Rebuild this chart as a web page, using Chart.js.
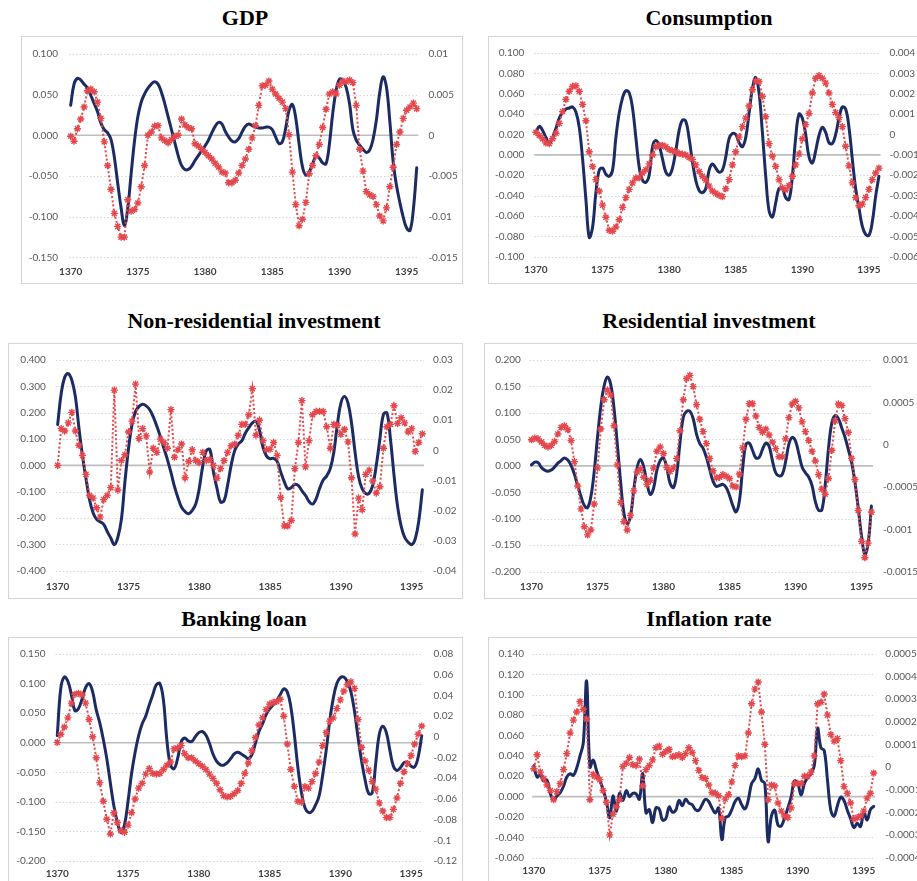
<!DOCTYPE html>
<html>
<head>
<meta charset="utf-8">
<script src="https://cdn.jsdelivr.net/npm/chart.js@4.4.1/dist/chart.umd.min.js"></script>
<style>
  html, body { margin: 0; padding: 0; background: #fff; width: 917px; height: 881px; overflow: hidden; position: relative; }
  .panel { position: absolute; border: 1px solid #d4d4d4; box-sizing: border-box; background: #fff; overflow: hidden; }
  .panel canvas { position: absolute; left: 0; top: 0; }
  .title { position: absolute; font-family: "Liberation Serif", "Times New Roman", serif; font-weight: bold;
           font-size: 22px; line-height: 24px; color: #000; white-space: nowrap; transform: translateX(-50%); }
</style>
</head>
<body>
<script>
// Quarterly observations, 1370Q1 - 1395Q4
const years = [1370, 1371, 1372, 1373, 1374, 1375, 1376, 1377, 1378, 1379, 1380, 1381, 1382,
               1383, 1384, 1385, 1386, 1387, 1388, 1389, 1390, 1391, 1392, 1393, 1394, 1395];
const quarters = ['Q1', 'Q2', 'Q3', 'Q4'];
const xTickYears = ['1370', '1375', '1380', '1385', '1390', '1395'];

// GDP
const gdpLeft = [0.037, 0.063, 0.070, 0.068, 0.063, 0.058, 0.049, 0.039, 0.029, 0.015,
  0.007, 0.003, -0.005, -0.027, -0.059, -0.089, -0.111, -0.089, -0.047, -0.007,
  0.023, 0.041, 0.051, 0.058, 0.063, 0.066, 0.063, 0.053, 0.039, 0.023,
  0.007, -0.009, -0.025, -0.037, -0.042, -0.042, -0.038, -0.031, -0.025, -0.019,
  -0.013, -0.006, 0.003, 0.011, 0.016, 0.014, 0.005, -0.002, -0.007, -0.008,
  -0.004, 0.004, 0.011, 0.014, 0.012, 0.010, 0.009, 0.009, 0.010, 0.010,
  0.007, -0.002, -0.010, -0.008, 0.009, 0.031, 0.038, 0.021, -0.011, -0.039,
  -0.049, -0.045, -0.035, -0.026, -0.028, -0.034, -0.035, -0.011, 0.027, 0.055,
  0.069, 0.068, 0.059, 0.039, 0.007, -0.006, -0.012, -0.017, -0.021, -0.018,
  -0.005, 0.019, 0.053, 0.072, 0.059, 0.017, -0.033, -0.062, -0.083, -0.101,
  -0.114, -0.117, -0.091, -0.040];
const gdpRight = [-0.00012, -0.00072, 0.0008, 0.002, 0.00348, 0.00548, 0.00568, 0.00536, 0.00408, 0.00208,
  -0.0008, -0.00372, -0.00664, -0.0096, -0.0112, -0.01252, -0.01252, -0.00792, -0.00932, -0.00912,
  -0.00832, -0.00632, -0.00372, 0, 0.0004, 0.00112, 0.0012, -0.00032, -0.00064, -0.00092,
  -0.00052, -0.00012, 0, 0.002, 0.00128, 0.00096, 0.0008, -0.00104, -0.00132, -0.00172,
  -0.00212, -0.00252, -0.00292, -0.00344, -0.0039, -0.0045, -0.00464, -0.00584, -0.00584, -0.00552,
  -0.00464, -0.00372, -0.00292, -0.00172, -0.00032, 0.0012, 0.00368, 0.00608, 0.00616, 0.00668,
  0.00568, 0.00508, 0.00456, 0.00408, 0.00328, 0.00008, -0.00452, -0.00852, -0.01112, -0.01032,
  -0.00824, -0.00472, -0.00372, -0.00252, -0.00112, 0.00096, 0.0032, 0.00508, 0.00536, 0.00508,
  0.00616, 0.00668, 0.00656, 0.0068, 0.00648, 0.00368, -0.00172, -0.0044, -0.00692, -0.00732,
  -0.00752, -0.00852, -0.00992, -0.01052, -0.00892, -0.00632, -0.00392, -0.00112, 0.0004, 0.00208,
  0.00308, 0.00348, 0.00396, 0.00328];
const gdpLeftTicks = ['0.100', '0.050', '0.000', '-0.050', '-0.100', '-0.150'];
const gdpRightTicks = ['0.01', '0.005', '0', '-0.005', '-0.01', '-0.015'];

// Consumption
const consLeft = [0.022, 0.028, 0.024, 0.017, 0.011, 0.017, 0.026, 0.036, 0.042, 0.045,
  0.046, 0.047, 0.042, 0.027, -0.004, -0.044, -0.081, -0.071, -0.037, -0.015,
  -0.013, -0.019, -0.021, -0.015, 0.017, 0.041, 0.056, 0.063, 0.061, 0.046,
  0.017, -0.012, -0.025, -0.027, -0.020, 0.008, 0.014, 0.009, -0.004, -0.017,
  -0.020, -0.013, 0.004, 0.024, 0.034, 0.033, 0.016, -0.007, -0.025, -0.035,
  -0.037, -0.033, -0.015, -0.009, -0.013, -0.017, -0.015, -0.002, 0.016, 0.021,
  0.020, 0.012, 0.008, 0.017, 0.041, 0.065, 0.076, 0.061, 0.022, -0.021,
  -0.055, -0.061, -0.047, -0.033, -0.033, -0.042, -0.044, -0.021, 0.017, 0.040,
  0.036, 0.020, -0.002, -0.008, 0.004, 0.019, 0.027, 0.022, 0.012, 0.011,
  0.020, 0.036, 0.047, 0.045, 0.027, -0.004, -0.033, -0.052, -0.070, -0.078,
  -0.079, -0.066, -0.041, -0.021];
const consRight = [0.000112, -0.000048, -0.000209, -0.000417, -0.000449, -0.000209, 0.000064, 0.000546, 0.001124, 0.001717,
  0.002119, 0.002359, 0.002391, 0.002119, 0.001477, 0.000674, -0.000851, -0.001573, -0.002215, -0.002777,
  -0.003467, -0.004061, -0.004703, -0.004751, -0.004542, -0.004189, -0.003579, -0.003098, -0.002696, -0.002375,
  -0.002135, -0.002135, -0.001894, -0.001733, -0.001445, -0.001011, -0.00061, -0.00053, -0.00053, -0.00061,
  -0.000738, -0.000802, -0.000851, -0.000931, -0.000963, -0.001011, -0.001124, -0.00122, -0.001493, -0.001814,
  -0.002054, -0.002247, -0.002536, -0.002777, -0.002889, -0.002985, -0.003049, -0.002664, -0.002215, -0.001493,
  -0.000851, -0.000128, 0.000385, 0.000803, 0.001396, 0.002199, 0.002632, 0.0026, 0.001878, 0.000867,
  -0.000449, -0.001059, -0.001573, -0.002215, -0.002616, -0.002729, -0.002504, -0.002054, -0.001493, -0.000963,
  -0.000209, 0.000482, 0.001027, 0.002038, 0.002761, 0.002889, 0.002761, 0.00252, 0.002038, 0.001477,
  0.001075, 0.000835, 0.000385, -0.000578, -0.001541, -0.002375, -0.003098, -0.003499, -0.003419, -0.003098,
  -0.002696, -0.002215, -0.001894, -0.001653];
const consLeftTicks = ['0.100', '0.080', '0.060', '0.040', '0.020', '0.000', '-0.020', '-0.040', '-0.060', '-0.080', '-0.100'];
const consRightTicks = ['0.004', '0.003', '0.002', '0.001', '0', '-0.001', '-0.002', '-0.003', '-0.004', '-0.005', '-0.006'];

// Non-residential investment
const nonresLeft = [0.155, 0.273, 0.335, 0.348, 0.323, 0.261, 0.143, 0.037, -0.050, -0.130,
  -0.180, -0.205, -0.214, -0.224, -0.251, -0.276, -0.301, -0.273, -0.205, -0.062,
  0.062, 0.155, 0.205, 0.224, 0.232, 0.226, 0.211, 0.184, 0.149, 0.109,
  0.065, 0.022, -0.027, -0.081, -0.124, -0.159, -0.176, -0.184, -0.171, -0.147,
  -0.087, 0.000, 0.056, 0.060, -0.025, -0.087, -0.139, -0.134, -0.075, 0.000,
  0.056, 0.081, 0.093, 0.122, 0.143, 0.161, 0.168, 0.134, 0.068, 0.035,
  0.025, 0.027, 0.015, -0.025, -0.062, -0.089, -0.084, -0.072, -0.077, -0.097,
  -0.114, -0.137, -0.147, -0.127, -0.087, -0.056, -0.040, -0.012, 0.050, 0.155,
  0.236, 0.261, 0.236, 0.161, 0.050, -0.043, -0.089, -0.107, -0.106, -0.075,
  0.000, 0.099, 0.193, 0.199, 0.099, -0.037, -0.155, -0.230, -0.273, -0.292,
  -0.301, -0.279, -0.211, -0.093];
const nonresRight = [-0.0050, 0.0072, 0.0064, 0.0091, 0.0126, 0.0064, 0.0017, -0.0017, -0.0080, -0.0150,
  -0.0159, -0.0191, -0.0222, -0.0164, -0.0150, -0.0124, 0.0200, -0.0132, -0.0034, -0.0015,
  0.0061, 0.0097, 0.0220, 0.0039, 0.0072, 0.0048, -0.0072, 0.0007, -0.0007, 0.0037,
  0.0026, 0.0007, 0.0135, -0.0023, 0.0002, 0.0021, -0.0091, -0.0037, 0.0002, -0.0034,
  -0.0041, -0.0007, -0.0034, -0.0030, -0.0050, -0.0093, -0.0061, -0.0034, -0.0007, 0.0015,
  0.0021, 0.0050, 0.0086, 0.0086, 0.0118, 0.0205, 0.0050, 0.0100, 0.0032, 0.0002,
  0.0004, 0.0026, -0.0017, -0.0157, -0.0251, -0.0251, -0.0233, -0.0061, 0.0026, 0.0165,
  -0.0055, 0.0032, 0.0118, 0.0129, 0.0129, 0.0129, 0.0078, 0.0007, 0.0086, 0.0083,
  0.0053, 0.0070, 0.0028, -0.0091, -0.0278, -0.0159, -0.0197, -0.0080, -0.0066, -0.0102,
  -0.0142, -0.0121, 0.0007, 0.0078, 0.0086, 0.0148, 0.0089, 0.0108, 0.0091, 0.0061,
  0.0072, -0.0004, 0.0026, 0.0055];
const nonresLeftTicks = ['0.400', '0.300', '0.200', '0.100', '0.000', '-0.100', '-0.200', '-0.300', '-0.400'];
const nonresRightTicks = ['0.03', '0.02', '0.01', '0', '-0.01', '-0.02', '-0.03', '-0.04'];

// Residential investment
const resLeft = [0.002, 0.007, 0.006, -0.003, -0.008, -0.010, -0.008, -0.002, 0.005, 0.010,
  0.015, 0.011, 0.001, -0.016, -0.037, -0.058, -0.075, -0.079, -0.058, -0.011,
  0.054, 0.112, 0.151, 0.168, 0.154, 0.109, 0.041, -0.030, -0.089, -0.109,
  -0.095, -0.045, -0.004, 0.012, -0.002, -0.033, -0.054, -0.042, -0.008, 0.010,
  0.015, -0.004, -0.033, -0.041, -0.015, 0.044, 0.092, 0.103, 0.103, 0.089,
  0.060, 0.042, 0.033, 0.016, -0.007, -0.029, -0.039, -0.037, -0.035, -0.041,
  -0.056, -0.075, -0.087, -0.066, -0.004, 0.041, 0.043, 0.029, 0.015, 0.016,
  0.031, 0.043, 0.037, 0.010, -0.013, -0.019, -0.016, 0.008, 0.041, 0.054,
  0.047, 0.023, -0.002, -0.013, -0.021, -0.037, -0.067, -0.084, -0.083, -0.036,
  0.033, 0.081, 0.095, 0.089, 0.072, 0.054, 0.031, 0.007, -0.030, -0.079,
  -0.132, -0.167, -0.147, -0.076];
const resRight = [0.000058, 0.000077, 0.000069, 0.000031, -0.000008, -0.000027, -0.000008, 0.000038, 0.000127, 0.000204,
  0.000223, 0.000177, 0.00005, -0.0002, -0.000488, -0.000758, -0.000969, -0.001065, -0.001008, -0.0007,
  -0.000277, 0.000185, 0.000531, 0.000646, 0.000588, 0.000223, -0.000238, -0.000681, -0.000911, -0.001008,
  -0.000835, -0.000546, -0.000323, -0.000285, -0.000385, -0.000469, -0.000423, -0.000277, -0.000077, -0.000027,
  -0.000104, -0.000269, -0.000315, -0.000277, -0.000162, 0.000165, 0.000531, 0.000781, 0.000819, 0.000685,
  0.000473, 0.0003, 0.000154, 0.000012, -0.000162, -0.000308, -0.000392, -0.000385, -0.000354, -0.000373,
  -0.0004, -0.000488, -0.0005, -0.000346, -0.000038, 0.0003, 0.000485, 0.000485, 0.000338, 0.000204,
  0.000146, 0.000185, 0.000115, 0.000031, -0.000046, -0.000142, -0.000142, 0.000069, 0.000319, 0.000481,
  0.000512, 0.000435, 0.000269, 0.000154, 0.00005, -0.000077, -0.000192, -0.000354, -0.000527, -0.000585,
  -0.0004, -0.000065, 0.000281, 0.000481, 0.000462, 0.000308, 0.000146, -0.000162, -0.000412, -0.000777,
  -0.001142, -0.001335, -0.001162, -0.000796];
const resLeftTicks = ['0.200', '0.150', '0.100', '0.050', '0.000', '-0.050', '-0.100', '-0.150', '-0.200'];
const resRightTicks = ['0.001', '0.0005', '0', '-0.0005', '-0.001', '-0.0015'];

// Banking loan
const bankLeft = [0.012, 0.092, 0.111, 0.104, 0.081, 0.054, 0.058, 0.074, 0.093, 0.100,
  0.086, 0.056, 0.034, 0.006, -0.027, -0.068, -0.107, -0.135, -0.152, -0.139,
  -0.099, -0.052, -0.016, 0.012, 0.032, 0.045, 0.064, 0.081, 0.098, 0.100,
  0.072, 0.003, -0.038, -0.044, -0.027, 0.001, 0.008, 0.003, 0.002, 0.010,
  0.017, 0.019, 0.013, -0.001, -0.019, -0.031, -0.037, -0.038, -0.034, -0.027,
  -0.019, -0.016, -0.019, -0.023, -0.027, -0.020, -0.001, 0.019, 0.032, 0.047,
  0.057, 0.064, 0.071, 0.081, 0.091, 0.086, 0.061, 0.014, -0.042, -0.084,
  -0.110, -0.118, -0.116, -0.105, -0.090, -0.055, -0.013, 0.037, 0.075, 0.100,
  0.110, 0.111, 0.103, 0.086, 0.053, 0.009, -0.031, -0.063, -0.086, -0.085,
  -0.035, 0.014, 0.028, 0.017, -0.013, -0.040, -0.047, -0.042, -0.034, -0.033,
  -0.040, -0.041, -0.024, 0.012];
const bankRight = [-0.00537, 0.00253, 0.00948, 0.01833, 0.03255, 0.04108, 0.04203, 0.04045, 0.03255, 0.01675,
  0, -0.02022, -0.04424, -0.06225, -0.07963, -0.09385, -0.07331, -0.08279, -0.09069, -0.09227,
  -0.08532, -0.07331, -0.06004, -0.04961, -0.04487, -0.03602, -0.03065, -0.03539, -0.03602, -0.03539,
  -0.0316, -0.02749, -0.02433, -0.01169, -0.01074, -0.00853, -0.01643, -0.02022, -0.02022, -0.02338,
  -0.02591, -0.02844, -0.0316, -0.03602, -0.04013, -0.04487, -0.05119, -0.05688, -0.05815, -0.05752,
  -0.05498, -0.05182, -0.04487, -0.03539, -0.02528, -0.01327, -0.00063, 0.01138, 0.01833, 0.02623,
  0.0316, 0.03318, 0.03413, 0.03634, 0.01991, -0.00695, -0.0316, -0.04803, -0.06225, -0.0632,
  -0.04803, -0.04961, -0.04329, -0.03539, -0.02433, -0.00853, 0.00411, 0.01517, 0.01833, 0.02718,
  0.03571, 0.04424, 0.05056, 0.05309, 0.04677, 0.01675, -0.01011, -0.02338, -0.03223, -0.04329,
  -0.05056, -0.06383, -0.07173, -0.07805, -0.07805, -0.07015, -0.05909, -0.04487, -0.03381, -0.02591,
  -0.01801, -0.00695, 0.00253, 0.01043];
const bankLeftTicks = ['0.150', '0.100', '0.050', '0.000', '-0.050', '-0.100', '-0.150', '-0.200'];
const bankRightTicks = ['0.08', '0.06', '0.04', '0.02', '0', '-0.02', '-0.04', '-0.06', '-0.08', '-0.1', '-0.12'];

// Inflation rate
const inflLeft = [0.0304, 0.0192, 0.0217, 0.0153, 0.016, 0.0032, -0.0032, 0.0006, 0.0038, 0.0102,
  0.0192, 0.0224, 0.0208, 0.0281, 0.0399, 0.0527, 0.1134, 0.0288, 0.0358, 0.0256,
  0.016, 0.007, -0.0048, -0.0208, 0.0006, -0.0144, 0.0032, -0.0038, 0.0058, 0,
  0.0032, 0.0026, -0.0026, 0.0224, -0.016, -0.0128, -0.0256, -0.0112, -0.0121, -0.023,
  -0.0217, -0.0102, -0.0153, -0.0134, -0.0038, -0.0089, -0.0026, -0.0064, -0.008, -0.0128,
  -0.0134, -0.008, -0.0026, -0.0048, -0.0112, -0.016, -0.0112, -0.0422, -0.0208, -0.0192,
  -0.0128, -0.0048, -0.0016, -0.008, -0.0121, -0.0032, 0.0128, 0.0176, 0.0272, 0.016,
  0.0128, -0.0441, -0.0192, -0.0134, -0.0281, -0.0288, -0.0208, -0.0112, 0, 0.0153,
  0.0128, 0.0016, 0.0128, 0.0185, 0.0224, 0.0304, 0.0671, 0.0479, 0.0454, 0.016,
  -0.0134, -0.0192, -0.0089, -0.0006, -0.0038, -0.0134, -0.0217, -0.0304, -0.0262, -0.0294,
  -0.0153, -0.023, -0.0128, -0.0096];
const inflRight = [-0.000007, 0.000055, -0.000022, -0.00005, -0.000079, -0.000103, -0.000144, -0.000108, -0.000072, -0.000011,
  0.00006, 0.000151, 0.000208, 0.000244, 0.00029, 0.000256, 0.000213, -0.000144, -0.000032, -0.000043,
  -0.000055, -0.000103, -0.000155, -0.000299, -0.000208, -0.000175, -0.000144, 0.000003, 0.000017, 0.000043,
  0.000011, 0.000007, 0.000036, -0.000083, -0.000011, 0.000007, 0.000032, 0.000086, 0.000093, 0.000057,
  0.000069, 0.000079, 0.000046, 0.00005, 0.000055, 0.000043, 0.00006, 0.000086, 0.000065, 0.000029,
  -0.000014, -0.000046, -0.00005, -0.000079, -0.000112, -0.000115, -0.000126, -0.000227, -0.000141, -0.000122,
  -0.000065, 0.000007, 0.00005, 0.000046, 0.00005, 0.000151, 0.00028, 0.000345, 0.000376, 0.000244,
  0.000101, -0.000144, -0.000079, -0.000083, -0.000158, -0.000194, -0.000216, -0.000223, -0.00018, -0.000072,
  -0.000072, -0.000072, -0.00004, -0.00004, -0.000022, 0.00005, 0.00028, 0.000287, 0.000323, 0.00023,
  0.000144, 0.000115, 0.000126, 0.000029, -0.000086, -0.000115, -0.000158, -0.00023, -0.000223, -0.000216,
  -0.000194, -0.000137, -0.000115, -0.000026];
const inflLeftTicks = ['0.140', '0.120', '0.100', '0.080', '0.060', '0.040', '0.020', '0.000', '-0.020', '-0.040', '-0.060'];
const inflRightTicks = ['0.0005', '0.0004', '0.0003', '0.0002', '0.0001', '0', '-0.0001', '-0.0002', '-0.0003', '-0.0004'];

// ---- drawing ----
const quarterLabels = years.flatMap(y => quarters.map(q => y + q));

const NAVY = '#1c2b63';
const RED = '#e4474c';
const TICK_FONT = { family: 'Lato, "Liberation Sans", sans-serif', size: 10 };

// Dotted horizontal gridlines plus the solid gray line at zero, from the left axis ticks.
const excelGrid = {
  id: 'excelGrid',
  beforeDatasetsDraw(chart) {
    const { ctx, chartArea: a } = chart;
    const y = chart.scales.y;
    ctx.save();
    ctx.strokeStyle = '#d6d6d6';
    ctx.lineWidth = 1;
    ctx.setLineDash([1.5, 2]);
    y.ticks.forEach(t => {
      if (t.value === 0) return;
      const py = Math.round(y.getPixelForValue(t.value)) + 0.5;
      ctx.beginPath(); ctx.moveTo(a.left, py); ctx.lineTo(a.right, py); ctx.stroke();
    });
    ctx.setLineDash([]);
    ctx.strokeStyle = '#bdbdbd';
    ctx.lineWidth = 1.6;
    const p0 = y.getPixelForValue(0);
    ctx.beginPath(); ctx.moveTo(a.left, p0); ctx.lineTo(a.right, p0); ctx.stroke();
    ctx.restore();
  }
};

function axisFromLabels(labels, position, padding, width) {
  const values = labels.map(parseFloat);
  const names = new Map(values.map((v, i) => [v, labels[i]]));
  return {
    position,
    min: Math.min(...values),
    max: Math.max(...values),
    grid: { display: false, drawTicks: false },
    border: { display: false },
    afterBuildTicks: s => { s.ticks = values.slice().sort((a, b) => a - b).map(v => ({ value: v })); },
    afterFit: s => { s.width = width; },
    ticks: { padding, color: '#595959', font: TICK_FONT, callback: v => names.get(v) }
  };
}

function buildPanel(p) {
  const [bx, by, bw, bh] = p.box;
  const panel = document.createElement('div');
  panel.className = 'panel';
  Object.assign(panel.style, { left: bx + 'px', top: by + 'px', width: bw + 'px', height: bh + 'px' });
  const cw = bw - 2, ch = bh - 2;
  const cv = document.createElement('canvas');
  cv.width = cw; cv.height = ch;
  cv.style.width = cw + 'px'; cv.style.height = ch + 'px';
  panel.appendChild(cv);
  document.body.appendChild(panel);

  const title = document.createElement('div');
  title.className = 'title';
  title.textContent = p.title;
  title.style.left = p.titleAt[0] + 'px';
  title.style.top = (p.titleAt[1] - 12) + 'px';
  document.body.appendChild(title);

  const ox = bx + 1, oy = by + 1;
  const [pl, pt, pr, pb] = p.plot;

  new Chart(cv, {
    type: 'line',
    data: {
      labels: quarterLabels,
      datasets: [
        { data: p.right, yAxisID: 'y2', borderColor: RED, backgroundColor: RED, borderWidth: 2,
          borderDash: [2, 2.2], tension: 0, pointStyle: 'star', pointRadius: 3.6,
          pointBorderWidth: 1.4, pointBorderColor: RED, pointBackgroundColor: RED },
        { data: p.left, yAxisID: 'y', borderColor: NAVY, borderWidth: 3, tension: 0.4,
          pointRadius: 0, borderJoinStyle: 'round', borderCapStyle: 'round' }
      ]
    },
    options: {
      responsive: false,
      animation: false,
      devicePixelRatio: 1,
      events: [],
      layout: { padding: { top: pt - oy, left: 0, right: 0, bottom: 0 } },
      plugins: { legend: { display: false }, tooltip: { enabled: false } },
      scales: {
        x: {
          type: 'category',
          offset: true,
          grid: { display: false, drawTicks: false },
          border: { display: false },
          afterFit: s => { s.height = oy + ch - pb; },
          ticks: {
            autoSkip: false, maxRotation: 0, minRotation: 0, padding: p.pad[2],
            color: '#404040', font: { ...TICK_FONT, weight: 'bold' },
            callback: (v, i) => {
              const lab = quarterLabels[i];
              const yr = lab.slice(0, 4);
              return (lab.endsWith('Q1') && xTickYears.includes(yr)) ? yr : '';
            }
          }
        },
        y: axisFromLabels(p.leftTicks, 'left', p.pad[0], pl - ox),
        y2: axisFromLabels(p.rightTicks, 'right', p.pad[1], ox + cw - pr)
      }
    },
    plugins: [excelGrid]
  });
}

const panels = [
  { title: 'GDP', titleAt: [245, 18], box: [21, 36, 442, 248], plot: [69.0, 49, 418.4, 257.3], pad: [11, 10, 8],
    left: gdpLeft, right: gdpRight, leftTicks: gdpLeftTicks, rightTicks: gdpRightTicks },
  { title: 'Consumption', titleAt: [709, 18], box: [488, 36, 445, 248], plot: [534.3, 49, 880.6, 256.7], pad: [10, 9, 7],
    left: consLeft, right: consRight, leftTicks: consLeftTicks, rightTicks: consRightTicks },
  { title: 'Non-residential investment', titleAt: [254, 321], box: [8, 343, 455, 256], plot: [55.9, 356, 424.1, 570.7], pad: [10, 9, 10],
    left: nonresLeft, right: nonresRight, leftTicks: nonresLeftTicks, rightTicks: nonresRightTicks },
  { title: 'Residential investment', titleAt: [709, 321], box: [484, 343, 445, 256], plot: [529.85, 356, 873.05, 571.7], pad: [9, 10, 9],
    left: resLeft, right: resRight, leftTicks: resLeftTicks, rightTicks: resRightTicks },
  { title: 'Banking loan', titleAt: [244, 619], box: [8, 637, 455, 262], plot: [55.5, 650, 423.5, 861], pad: [10, 10, 7],
    left: bankLeft, right: bankRight, leftTicks: bankLeftTicks, rightTicks: bankRightTicks },
  { title: 'Inflation rate', titleAt: [709, 619], box: [488, 637, 445, 262], plot: [532.15, 649, 875.35, 857.7], pad: [8, 10, 7],
    left: inflLeft, right: inflRight, leftTicks: inflLeftTicks, rightTicks: inflRightTicks }
];

panels.forEach(buildPanel);
</script>
</body>
</html>
